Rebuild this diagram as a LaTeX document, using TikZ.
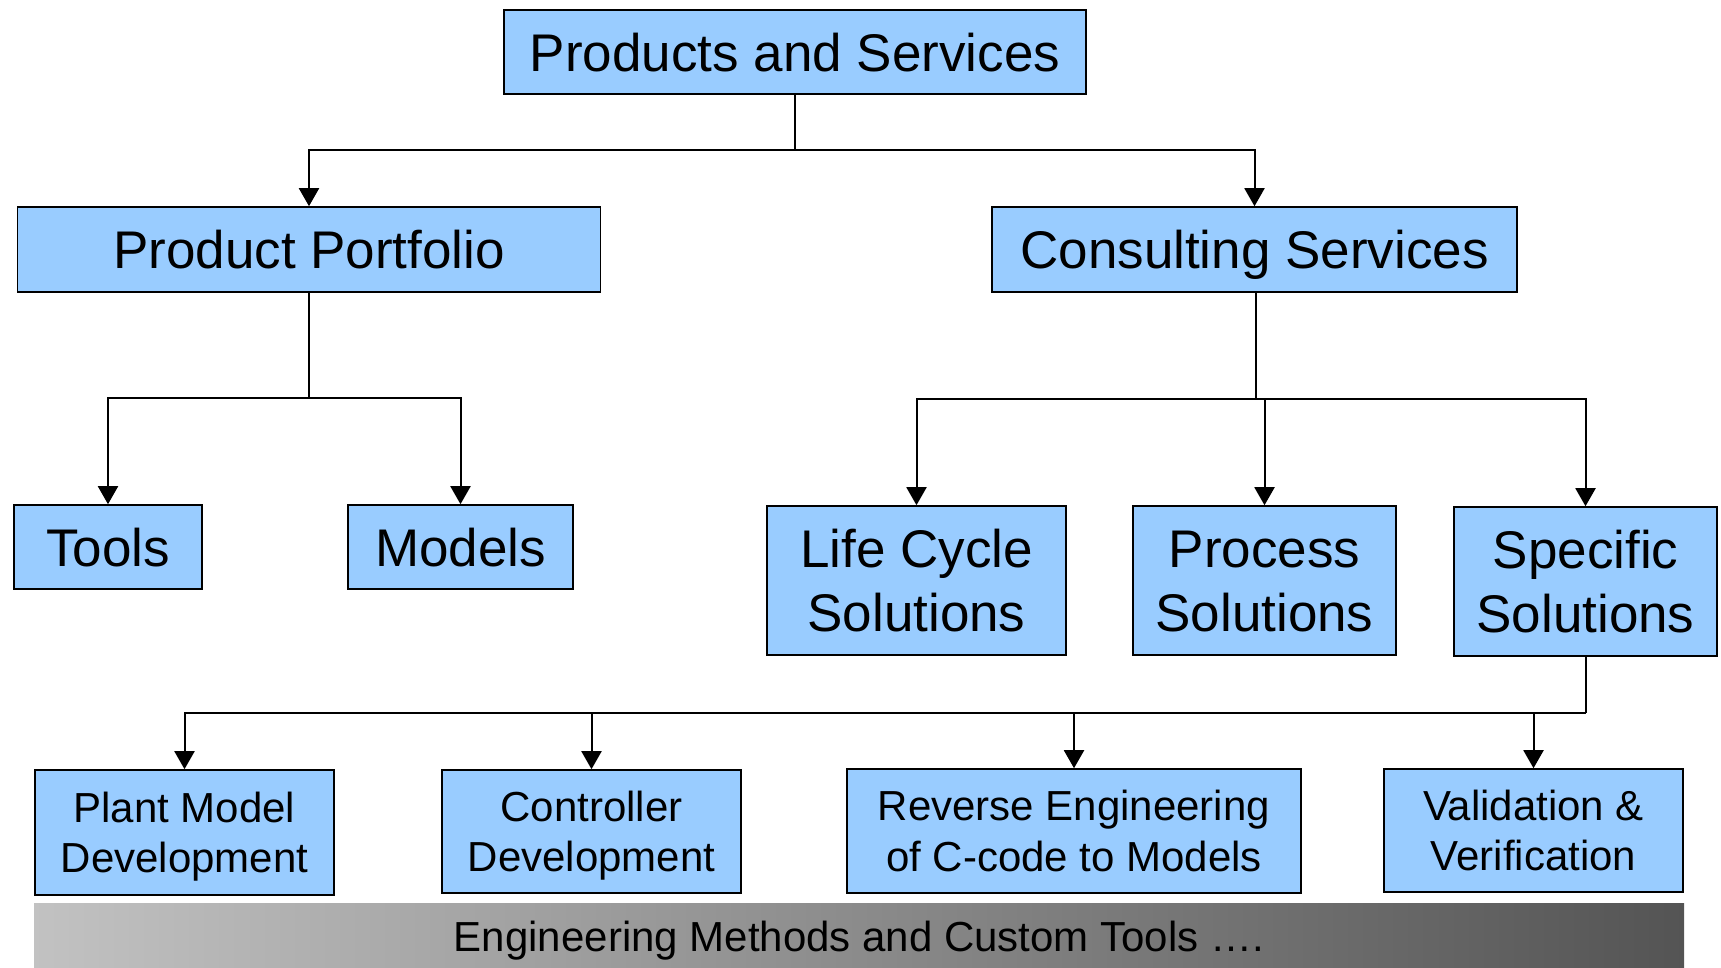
\documentclass[tikz,border=0pt]{standalone}
\usepackage{fontspec}
\setmainfont{Liberation Sans}
\usetikzlibrary{arrows.meta,calc}
\definecolor{boxblue}{HTML}{99CCFF}
\begin{document}
\begin{tikzpicture}[x=1pt,y=-1pt,
  box/.style={draw=black,line width=1.6pt,fill=boxblue,inner sep=0pt,align=center,anchor=center,text depth=0pt},
  big/.style={box,font=\fontsize{53}{64}\selectfont,text height=38pt},
  bigtwo/.style={box,font=\fontsize{53}{64}\selectfont,text height=102pt},
  smalltwo/.style={box,font=\fontsize{42}{50.5}\selectfont,text height=80.5pt},
  arr/.style={line width=2pt,-{Triangle[width=20pt,length=18pt]}},
  ln/.style={line width=2pt}]
\useasboundingbox (0,0) rectangle (1721,967);
% bottom bar
\node[draw=none,left color=black!24,right color=black!67,minimum width=1650pt,minimum height=66pt,inner sep=0pt,
  text height=30pt,text depth=0pt,font=\fontsize{42}{50}\selectfont] (bar) at (859,936) {Engineering Methods and Custom Tools ….};
% top
\node[big,minimum width=582pt,minimum height=84pt] (ps) at (795,52) {Products and Services};
% level 2
\node[big,minimum width=583pt,minimum height=85pt] (pp) at (309,249.5) {Product Portfolio};
\node[big,minimum width=525pt,minimum height=85pt] (cs) at (1254.5,249.5) {Consulting Services};
% level 3
\node[big,minimum width=188pt,minimum height=84pt] (tools) at (108,547) {Tools};
\node[big,minimum width=225pt,minimum height=84pt] (models) at (460.5,547) {Models};
\node[bigtwo,minimum width=299pt,minimum height=149pt] (life) at (916.5,580.5) {Life Cycle\\Solutions};
\node[bigtwo,minimum width=263pt,minimum height=149pt] (proc) at (1264.5,580.5) {Process\\Solutions};
\node[bigtwo,minimum width=263pt,minimum height=149pt] (spec) at (1585.5,581.5) {Specific\\Solutions};
% level 4
\node[smalltwo,minimum width=299pt,minimum height=125pt] (plant) at (184.5,832.5) {Plant Model\\Development};
\node[smalltwo,minimum width=299pt,minimum height=123pt] (ctrl) at (591.5,831.5) {Controller\\Development};
\node[smalltwo,minimum width=454pt,minimum height=124pt] (rev) at (1074,831) {Reverse Engineering\\of C-code to Models};
\node[smalltwo,minimum width=299pt,minimum height=123pt] (val) at (1533.5,830.5) {Validation \&\\Verification};
% junctions
\coordinate (j1) at (795,150);
\coordinate (j2) at (309,398);
\coordinate (j3) at (1256,399);
\coordinate (j4) at (1585.5,713);
% connectors
\draw[ln] (ps.south) -- (j1);
\draw[arr] (j1) -| (pp.north);
\draw[arr] (j1) -| (cs.north);
\draw[ln] (pp.south) -- (j2);
\draw[arr] (j2) -| (tools.north);
\draw[arr] (j2) -| (models.north);
\draw[ln] (j3 |- cs.south) -- (j3);
\draw[arr] (j3) -| (life.north);
\draw[arr] (j3) -| (proc.north);
\draw[arr] (j3) -| (spec.north);
\draw[ln] (spec.south) -- (j4);
\draw[arr] (j4) -| (plant.north);
\draw[arr] (j4) -| (ctrl.north);
\draw[arr] (j4) -| (rev.north);
\draw[arr] (j4) -| (val.north);
\end{tikzpicture}
\end{document}
